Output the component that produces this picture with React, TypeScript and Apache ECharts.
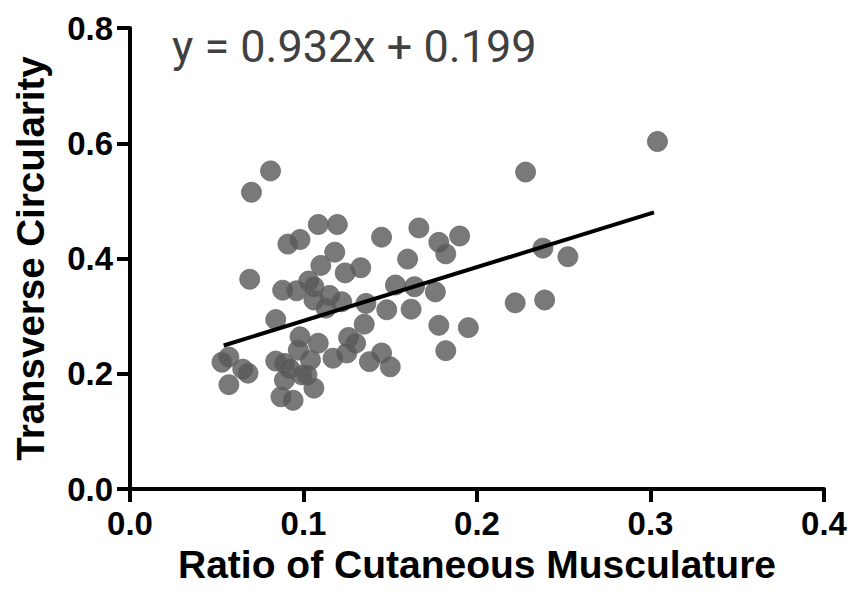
import React, { useEffect, useRef } from "react";
import * as echarts from "echarts";

const xValues = [
  0.304, 0.228, 0.081, 0.070, 0.069, 0.1085, 0.1195, 0.098, 0.091, 0.145,
  0.118, 0.110, 0.124, 0.133, 0.088, 0.096, 0.103, 0.106, 0.106, 0.115,
  0.122, 0.113, 0.136, 0.084, 0.135, 0.098, 0.1085, 0.097, 0.126, 0.130,
  0.125, 0.117, 0.104, 0.138, 0.145, 0.150, 0.084, 0.089, 0.092, 0.099,
  0.102, 0.089, 0.106, 0.087, 0.094, 0.057, 0.053, 0.065, 0.068, 0.057,
  0.1665, 0.178, 0.190, 0.182, 0.160, 0.153, 0.164, 0.176, 0.148, 0.162,
  0.178, 0.195, 0.182, 0.222, 0.239, 0.238, 0.2524,
];
const yValues = [
  0.603, 0.550, 0.552, 0.515, 0.364, 0.459, 0.459, 0.433, 0.425, 0.437,
  0.411, 0.388, 0.375, 0.384, 0.345, 0.344, 0.361, 0.351, 0.328, 0.336,
  0.325, 0.314, 0.322, 0.294, 0.286, 0.264, 0.253, 0.241, 0.263, 0.253,
  0.236, 0.227, 0.224, 0.221, 0.236, 0.212, 0.222, 0.218, 0.209, 0.198,
  0.198, 0.189, 0.175, 0.160, 0.154, 0.229, 0.220, 0.208, 0.201, 0.181,
  0.453, 0.428, 0.439, 0.408, 0.399, 0.354, 0.351, 0.342, 0.311, 0.312,
  0.284, 0.280, 0.240, 0.323, 0.328, 0.418, 0.403,
];
const fitLineX = [0.054, 0.302];
const fitLineY = [0.249, 0.480];
const equationText = "y = 0.932x + 0.199";
const xAxisTitle = "Ratio of Cutaneous Musculature";
const yAxisTitle = "Transverse Circularity";

export default function App() {
  const ref = useRef<HTMLDivElement>(null);
  useEffect(() => {
    if (!ref.current) return;
    const chart = echarts.init(ref.current, undefined, { renderer: "svg" });
    const points = xValues.map((x, i) => [x, yValues[i]]);
    const line = fitLineX.map((x, i) => [x, fitLineY[i]]);
    const font = "'Liberation Sans', Arial, sans-serif";
    chart.setOption({
      animation: false,
      backgroundColor: "#ffffff",
      grid: { left: 130, top: 28, right: 26, bottom: 107 },
      xAxis: {
        type: "value",
        min: 0,
        max: 0.4,
        interval: 0.1,
        splitLine: { show: false },
        axisLine: { show: true, onZero: false, lineStyle: { color: "#000", width: 4 } },
        axisTick: { show: true, length: 13, inside: false, lineStyle: { color: "#000", width: 4 } },
        axisLabel: {
          margin: 18,
          color: "#000",
          fontFamily: font,
          fontWeight: "bold",
          fontSize: 33,
          formatter: (v: number) => v.toFixed(1),
        },
        name: xAxisTitle,
        nameLocation: "middle",
        nameGap: 54,
        nameTextStyle: { color: "#000", fontFamily: font, fontWeight: "bold", fontSize: 39 },
      },
      yAxis: {
        type: "value",
        min: 0,
        max: 0.8,
        interval: 0.2,
        splitLine: { show: false },
        axisLine: { show: true, onZero: false, lineStyle: { color: "#000", width: 4 } },
        axisTick: { show: true, length: 13, inside: false, lineStyle: { color: "#000", width: 4 } },
        axisLabel: {
          margin: 17,
          color: "#000",
          fontFamily: font,
          fontWeight: "bold",
          fontSize: 33,
          formatter: (v: number) => v.toFixed(1),
        },
        name: yAxisTitle,
        nameLocation: "middle",
        nameGap: 80,
        nameRotate: 90,
        nameTextStyle: { color: "#000", fontFamily: font, fontWeight: "bold", fontSize: 38.5 },
      },
      graphic: [
        {
          type: "text",
          left: 172,
          top: 24,
          style: {
            text: equationText,
            fill: "#404040",
            font: "45px Roboto, 'Liberation Sans', sans-serif",
          },
        },
      ],
      series: [
        {
          type: "scatter",
          data: points,
          symbol: "circle",
          symbolSize: 20,
          itemStyle: { color: "#585858", borderColor: "#6a6a6a", borderWidth: 1 },
          z: 2,
        },
        {
          type: "line",
          data: line,
          symbol: "none",
          lineStyle: { color: "#000", width: 4 },
          z: 3,
        },
      ],
    });
    return () => chart.dispose();
  }, []);
  return <div ref={ref} style={{ width: 850, height: 596, position: "absolute", left: 0, top: 0 }} />;
}
